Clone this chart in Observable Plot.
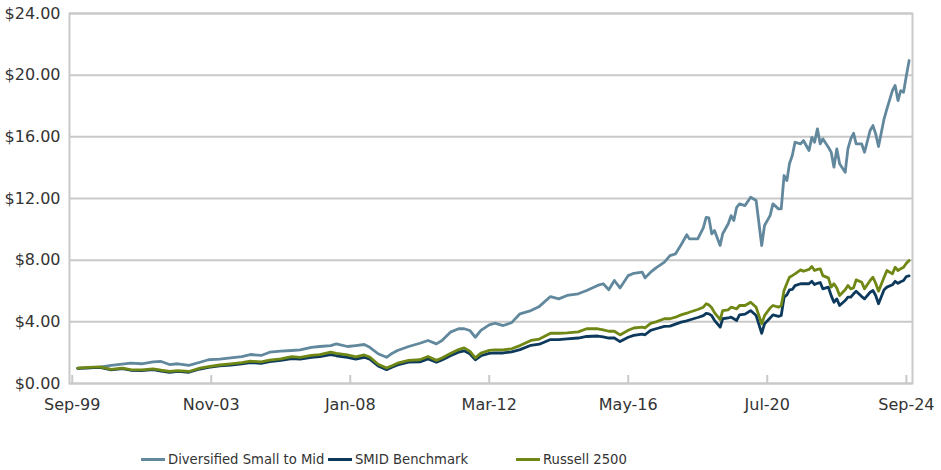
<!DOCTYPE html>
<html>
<head>
<meta charset="utf-8">
<script src="https://cdn.jsdelivr.net/npm/d3@7"></script>
<script src="https://cdn.jsdelivr.net/npm/@observablehq/plot@0.6"></script>
<style>
  html, body { margin: 0; padding: 0; background: #fff; }
  body { width: 941px; height: 470px; overflow: hidden; font-family: "DejaVu Sans", sans-serif; }
  #chart svg { display: block; }
  #legend { position: relative; width: 941px; height: 50px; }
  .item { position: absolute; top: 30px; height: 18px; display: flex; align-items: center; font-size: 13.2px; color: #333; white-space: nowrap; }
  .sw { display: inline-block; width: 24px; height: 3px; margin-right: 3px; }
</style>
</head>
<body>
<div id="chart"></div>
<div id="legend"></div>
<script>
// Series names and colours
const seriesNames = ["Diversified Small to Mid", "SMID Benchmark", "Russell 2500"];
const seriesColors = ["#62889d", "#0d3a5c", "#6f8714"];
const legendLeft = [141, 328, 516];

// Observation months, counted from Sep-99
const monthOffsets = [
  2,6,10,14,18,21,25,29,32,35,
  38,42,46,49,53,57,61,64,68,71,
  75,79,82,86,89,93,95,99,102,105,
  107,110,113,115,117,121,125,128,131,133,
  136,139,141,143,145,147,150,152,155,158,
  161,165,168,172,175,178,182,185,189,191,
  193,195,197,200,202,205,206,208,210,213,
  215,217,219,221,222,225,227,228,229,230,
  231,233,234,236,237,238,239,240,242,244,
  246,248,249,251,252,254,255,256,257,258,
  259,260,262,263,265,266,267,268,269,270,
  272,273,274,275,276,278,279,280,281,282,
  284,285,287,288,289,290,292,293,295,296,
  297,298,299,300,301
];

// Growth of $1 — Diversified Small to Mid
const diversified = [
  1.00,1.02,1.06,1.17,1.25,1.32,1.28,1.40,1.43,1.23,
  1.28,1.17,1.38,1.54,1.58,1.66,1.75,1.88,1.82,2.03,
  2.10,2.14,2.18,2.35,2.40,2.46,2.57,2.40,2.46,2.53,
  2.35,1.93,1.70,1.95,2.14,2.40,2.61,2.79,2.57,2.79,
  3.33,3.55,3.55,3.44,3.00,3.45,3.80,3.91,3.76,3.95,
  4.52,4.73,5.00,5.64,5.49,5.71,5.82,6.03,6.36,6.47,
  6.08,6.68,6.20,7.00,7.15,7.22,6.85,7.22,7.50,7.87,
  8.30,8.41,9.00,9.65,9.38,9.38,10.10,10.78,10.74,9.71,
  9.92,8.95,9.71,10.36,10.89,10.57,11.43,11.65,11.54,12.08,
  11.87,8.95,10.25,10.89,11.65,11.33,11.33,13.49,13.16,14.25,
  14.79,15.65,15.54,15.76,15.11,15.97,15.65,16.52,15.54,15.87,
  15.32,15.00,14.03,15.22,14.25,13.70,15.22,15.87,16.23,15.54,
  15.54,15.00,16.41,16.73,16.19,15.37,17.17,17.81,19.00,19.33,
  18.35,19.00,18.89,19.97,20.95
];

// Growth of $1 — SMID Benchmark
const smid = [
  0.98,1.02,1.05,0.88,0.96,0.86,0.84,0.90,0.80,0.73,
  0.78,0.73,0.94,1.04,1.14,1.20,1.28,1.36,1.31,1.42,
  1.50,1.62,1.58,1.70,1.75,1.88,1.80,1.70,1.58,1.70,
  1.58,1.14,0.90,1.05,1.20,1.38,1.40,1.60,1.38,1.52,
  1.80,2.03,2.12,1.92,1.54,1.80,1.95,1.98,1.98,2.05,
  2.20,2.48,2.55,2.85,2.85,2.90,2.95,3.05,3.08,3.02,
  2.95,2.95,2.72,3.00,3.12,3.20,3.16,3.45,3.55,3.70,
  3.72,3.85,3.98,4.06,4.12,4.28,4.40,4.55,4.52,4.40,
  4.10,3.65,4.20,4.25,4.30,4.20,4.09,4.45,4.50,4.73,
  4.41,3.26,3.87,4.25,4.45,4.35,4.41,5.60,5.75,6.08,
  6.10,6.35,6.47,6.47,6.47,6.63,6.42,6.50,6.55,6.14,
  6.25,5.70,5.27,5.49,5.06,5.38,5.60,5.60,5.82,5.99,
  5.64,5.49,5.92,6.03,5.71,5.17,6.08,6.25,6.40,6.63,
  6.50,6.60,6.68,6.94,6.98
];

// Growth of $1 — Russell 2500
const russell = [
  1.00,1.05,1.08,0.92,1.00,0.90,0.88,0.95,0.86,0.78,
  0.84,0.78,1.00,1.10,1.20,1.28,1.36,1.45,1.40,1.52,
  1.60,1.74,1.70,1.82,1.88,2.03,1.95,1.85,1.72,1.85,
  1.72,1.25,1.00,1.15,1.32,1.50,1.54,1.75,1.50,1.65,
  1.95,2.20,2.31,2.10,1.66,1.97,2.15,2.18,2.18,2.25,
  2.46,2.79,2.88,3.26,3.26,3.28,3.35,3.55,3.55,3.48,
  3.39,3.39,3.15,3.45,3.60,3.65,3.61,3.90,4.00,4.20,
  4.20,4.30,4.45,4.56,4.62,4.80,4.95,5.17,5.10,4.91,
  4.60,4.15,4.73,4.78,4.95,4.90,4.84,5.06,5.06,5.27,
  4.95,3.87,4.40,4.90,5.06,4.95,5.06,6.03,6.50,6.89,
  7.00,7.11,7.37,7.28,7.40,7.59,7.33,7.40,7.44,7.00,
  6.85,6.25,6.47,6.20,5.71,6.08,6.36,6.14,6.20,6.72,
  6.57,6.14,6.68,6.89,6.50,5.99,6.89,7.33,7.11,7.54,
  7.33,7.45,7.54,7.80,7.98
];

// Axis tick labels
const xTickLabels = ["Sep-99", "Nov-03", "Jan-08", "Mar-12", "May-16", "Jul-20", "Sep-24"];
const yTicks = [0, 4, 8, 12, 16, 20, 24];

// Build table
const start = new Date(Date.UTC(1999, 8, 1));
const parseTick = d3.utcParse("%b-%y");
const xTicks = xTickLabels.map(parseTick);
const seriesValues = [diversified, smid, russell];
const rows = [];
seriesValues.forEach((vals, s) => {
  vals.forEach((v, i) => {
    rows.push({date: d3.utcMonth.offset(start, monthOffsets[i]), value: v, series: seriesNames[s]});
  });
});

const chart = Plot.plot({
  width: 941,
  height: 420,
  marginLeft: 69,
  marginRight: 29,
  marginTop: 13,
  marginBottom: 37,
  style: {fontFamily: "DejaVu Sans, sans-serif", fontSize: "16px", color: "#333", background: "#fff"},
  x: {type: "utc", domain: [new Date(Date.UTC(1999, 7, 2)), new Date(Date.UTC(2024, 10, 7))]},
  y: {domain: [0, 24]},
  color: {domain: seriesNames, range: seriesColors},
  marks: [
    Plot.gridY(yTicks, {stroke: "#c9c9c9", strokeOpacity: 1, strokeWidth: 2}),
    Plot.frame({stroke: "#c9c9c9", strokeWidth: 2}),
    Plot.axisY(yTicks, {tickSize: 0, tickPadding: 9, tickFormat: d => "$" + d.toFixed(2), fill: "#333", fontSize: 16, label: null}),
    Plot.axisX(xTicks, {tickSize: -8, tickFormat: () => "", stroke: "#c9c9c9", strokeWidth: 2, label: null}),
    Plot.axisX(xTicks, {tickSize: 0, tickPadding: 15, tickFormat: (d, i) => xTickLabels[i], fill: "#333", fontSize: 16, label: null}),
    Plot.line(rows, {x: "date", y: "value", z: "series", stroke: "series", strokeWidth: 2.8, strokeLinejoin: "round"})
  ]
});
document.getElementById("chart").appendChild(chart);

// Legend
const legend = document.getElementById("legend");
seriesNames.forEach((name, i) => {
  const item = document.createElement("div");
  item.className = "item";
  item.style.left = legendLeft[i] + "px";
  const sw = document.createElement("span");
  sw.className = "sw";
  sw.style.background = seriesColors[i];
  item.appendChild(sw);
  item.appendChild(document.createTextNode(name));
  legend.appendChild(item);
});
</script>
</body>
</html>
